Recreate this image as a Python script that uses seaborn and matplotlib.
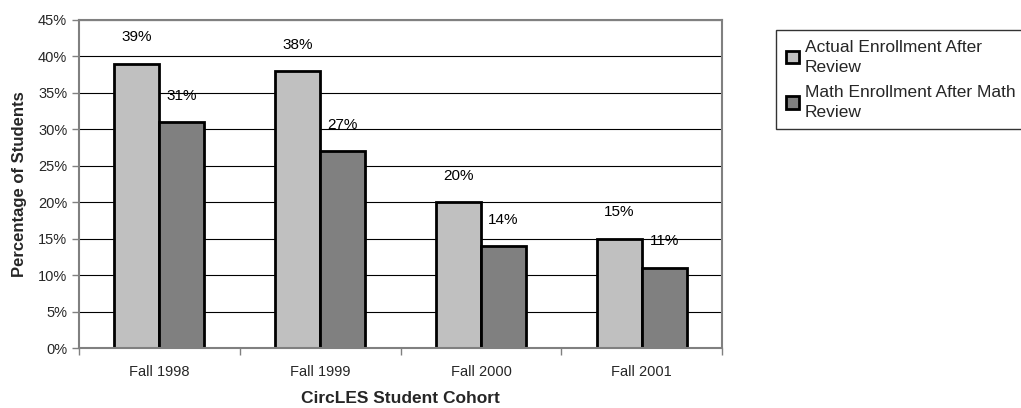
import matplotlib
matplotlib.use("Agg")
import matplotlib.pyplot as plt
import seaborn as sns
import pandas as pd
import numpy as np
from matplotlib.ticker import FuncFormatter, FixedLocator

# data
cohorts = ["Fall 1998", "Fall 1999", "Fall 2000", "Fall 2001"]
actual_enrollment = [39, 38, 20, 15]
math_enrollment = [31, 27, 14, 11]
series_names = ["Actual Enrollment After\nReview", "Math Enrollment After Math\nReview"]

df = pd.DataFrame({
    "cohort": cohorts * 2,
    "value": actual_enrollment + math_enrollment,
    "series": [series_names[0]] * 4 + [series_names[1]] * 4,
})

sns.set_theme(style="white")
plt.rcParams["font.family"] = ["Liberation Sans", "DejaVu Sans"]

fig = plt.figure(figsize=(10.21, 4.08), dpi=100)
ax = fig.add_axes([0.0774, 0.147, 0.630, 0.804])

sns.barplot(
    data=df, x="cohort", y="value", hue="series",
    palette=["#C0C0C0", "#808080"], width=0.56,
    edgecolor="black", linewidth=2.0, saturation=1, ax=ax,
)

# value labels above bars
for cont in ax.containers:
    ax.bar_label(cont, labels=[f"{int(v)}%" for v in cont.datavalues],
                 padding=14, fontsize=11, color="black")

ax.set_ylim(0, 45)
ax.set_xlim(-0.5, 3.5)
ax.set_yticks(np.arange(0, 46, 5))
ax.yaxis.set_major_formatter(FuncFormatter(lambda v, p: f"{int(v)}%"))
ax.yaxis.grid(True, color="black", linewidth=0.8)
ax.set_axisbelow(True)

ax.xaxis.set_minor_locator(FixedLocator(np.arange(-0.5, 3.6, 1)))
ax.tick_params(axis="x", which="major", length=0, labelsize=10.5, pad=12)
ax.tick_params(axis="x", which="minor", length=5, width=1, color="#808080", bottom=True, direction="out")
ax.tick_params(axis="y", length=5, width=1, color="#808080", left=True, direction="out", labelsize=10.5)

for s in ax.spines.values():
    s.set_color("#808080")
    s.set_linewidth(1.5)

ax.set_xlabel("CircLES Student Cohort", fontsize=12.5, fontweight="bold", labelpad=9)
ax.set_ylabel("Percentage of Students", fontsize=12, fontweight="bold", labelpad=8)

leg = ax.legend(loc="upper left", bbox_to_anchor=(0.760, 0.926), bbox_transform=fig.transFigure,
                borderaxespad=0, frameon=True, fontsize=12.5, handlelength=0.75, handleheight=0.75,
                handletextpad=0.35, labelspacing=0.6, borderpad=0.55, fancybox=False)
leg.get_frame().set_edgecolor("black")
leg.get_frame().set_linewidth(1.0)
for h in leg.legend_handles:
    h.set_edgecolor("black")
    h.set_linewidth(2.0)
for t in leg.get_texts():
    t.set_linespacing(1.4)

fig.savefig("out.png", dpi=100)
